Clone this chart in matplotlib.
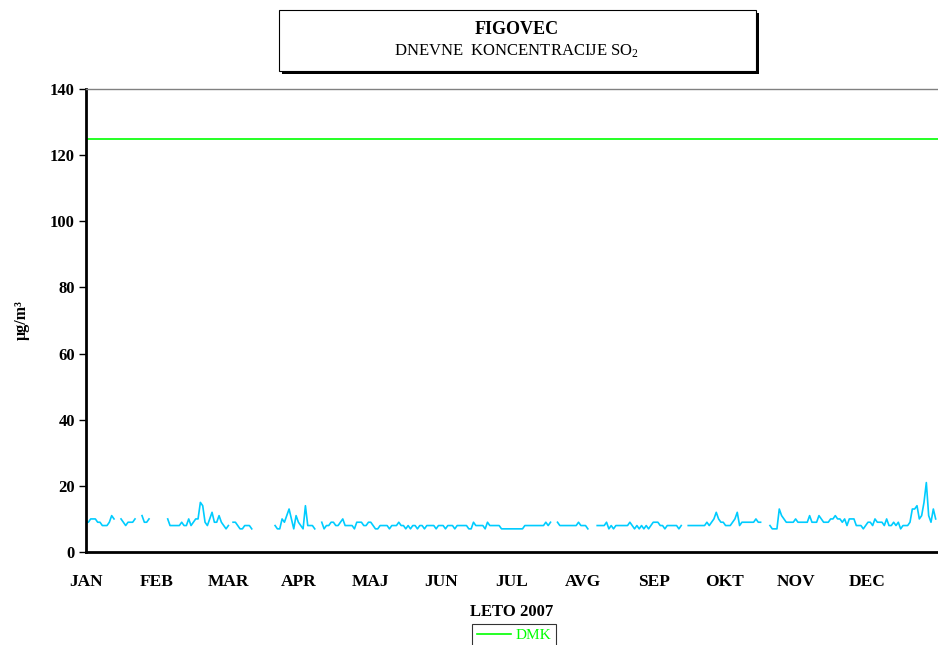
import numpy as np
import matplotlib
matplotlib.use("Agg")
import matplotlib.pyplot as plt
from matplotlib.patches import Rectangle
from matplotlib.lines import Line2D

plt.rcParams['font.family'] = ['Liberation Serif', 'DejaVu Serif']
plt.rcParams['mathtext.fontset'] = 'custom'
plt.rcParams['mathtext.rm'] = 'Liberation Serif'
plt.rcParams['mathtext.it'] = 'Liberation Serif:italic'
plt.rcParams['mathtext.bf'] = 'Liberation Serif:bold'

N = np.nan
# Daily SO2 concentrations 2007 (NaN = missing)
so2 = (
    [9, 9, 10, 10, 10, 9, 9, 8, 8, 8, 9, 11, 10]                     # 0-12
    + [N, N]                                                          # 13-14
    + [10, 9, 8, 9, 9, 9, 10]                                         # 15-21
    + [N, N]                                                          # 22-23
    + [11, 9, 9, 10]                                                  # 24-27
    + [N] * 7                                                         # 28-34
    + [10, 8, 8, 8, 8, 8, 9, 8, 8, 10, 8, 9, 10, 10, 15, 14, 9, 8, 10, 12,
       9, 9, 11, 9, 8, 7, 8]                                          # 35-61
    + [N]                                                             # 62
    + [9, 9, 8, 7, 7, 8, 8, 8, 7]                                     # 63-71
    + [N] * 9                                                         # 72-80
    + [8, 7, 7, 10, 9, 11, 13, 10, 7, 11, 9, 8, 7, 14, 8, 8, 8, 7]    # 81-98
    + [N, N]                                                          # 99-100
    + [9, 7, 8, 8, 9, 9, 8, 8, 9, 10, 8, 8, 8, 8, 7, 9, 9, 9, 8, 8, 9, 9,
       8, 7, 7]                                                       # 101-125
    + [8, 8, 8, 8, 7, 8, 8, 8, 9, 8, 8, 7, 8, 7, 8, 8, 7, 8, 8, 7, 8, 8,
       8, 8, 7, 8, 8, 8, 7, 8, 8, 8, 7, 8, 8, 8, 8, 8, 7, 7, 9, 8, 8, 8,
       8, 7, 9, 8, 8, 8, 8, 8, 7, 7, 7, 7]                            # 126-181
    + [7, 7, 7, 7, 7, 7, 8, 8, 8, 8, 8, 8, 8, 8, 8, 9, 8, 9]          # 182-199
    + [N, N]                                                          # 200-201
    + [9, 8, 8, 8, 8, 8, 8, 8, 8, 9, 8, 8, 8, 7]                      # 202-215
    + [N, N, N]                                                       # 216-218
    + [8, 8, 8, 8, 9, 7, 8, 7, 8, 8, 8, 8, 8, 8, 9, 8, 7, 8, 7, 8, 7, 8,
       7, 8, 9, 9, 9, 8, 8, 7, 8, 8, 8, 8, 8, 7, 8]                   # 219-255
    + [N, N]                                                          # 256-257
    + [8, 8, 8, 8, 8, 8, 8, 8, 9, 8, 9, 10, 12, 10, 9, 9, 8, 8, 8, 9,
       10, 12, 8, 9, 9, 9, 9, 9, 9, 10, 9, 9]                         # 258-289
    + [N, N, N]                                                       # 290-292
    + [8, 7, 7, 7, 13, 11, 10, 9, 9, 9, 9, 10]                        # 293-304
    + [9, 9, 9, 9, 9, 11, 9, 9, 9, 11, 10, 9, 9, 9, 10, 10, 11, 10, 10,
       9, 10, 8, 10, 10, 10, 8, 8, 8, 7, 8, 9, 9, 8, 10, 9, 9, 9, 8, 10,
       8, 8, 9, 8, 9, 7, 8, 8, 8, 9, 13, 13, 14, 10, 11, 15, 21, 11, 9,
       13, 10]                                                        # 305-364
)
so2 = np.array(so2, dtype=float)
days = np.arange(len(so2))

dmk_value = 125
months = ['JAN', 'FEB', 'MAR', 'APR', 'MAJ', 'JUN', 'JUL', 'AVG', 'SEP', 'OKT', 'NOV', 'DEC']
yticks = [0, 20, 40, 60, 80, 100, 120, 140]
n_days = 365

fig = plt.figure(figsize=(9.38, 6.45), dpi=100)
ax = fig.add_axes([86 / 938, (645 - 552) / 645, 852 / 938, 463 / 645])

ax.plot(days, so2, color='#00CCFF', lw=1.2)
ax.axhline(dmk_value, color='#00FF00', lw=1.2)

ax.set_xlim(0, n_days)
ax.set_ylim(0, 140)
ax.set_yticks(yticks)
ax.set_yticklabels([str(v) for v in yticks], fontweight='bold', fontsize=12)
ax.set_xticks([i * n_days / 12 for i in range(12)])
ax.set_xticklabels(months, fontweight='bold', fontsize=12.5)
ax.tick_params(axis='x', length=0, pad=16)
ax.tick_params(axis='y', length=5, width=1, direction='out', pad=3)

ax.spines['left'].set_linewidth(2)
ax.spines['bottom'].set_linewidth(2)
ax.spines['top'].set_color('#808080')
ax.spines['top'].set_linewidth(1)
ax.spines['right'].set_visible(False)

ax.set_xlabel('LETO 2007', fontweight='bold', fontsize=12, labelpad=10)
fig.text(22 / 938, 1 - 320 / 645, 'µg/m³', rotation=90, fontweight='bold',
         fontsize=11.5, ha='center', va='center')

# Title box with shadow
fig.patches.append(Rectangle((282 / 938, 1 - 74 / 645), 477 / 938, 61 / 645,
                             transform=fig.transFigure, facecolor='black',
                             edgecolor='black', lw=0, zorder=1))
fig.patches.append(Rectangle((279 / 938, 1 - 71 / 645), 477 / 938, 61 / 645,
                             transform=fig.transFigure, facecolor='white',
                             edgecolor='black', lw=0.8, zorder=2))
fig.text(517 / 938, 1 - 30 / 645, 'FIGOVEC', fontweight='bold', fontsize=13,
         ha='center', va='center', zorder=3)
fig.text(517 / 938, 1 - 51 / 645, 'DNEVNE  KONCENTRACIJE SO$_2$', fontsize=12,
         ha='center', va='center', zorder=3)

handle = Line2D([], [], color='#00FF00', lw=1.2)
leg = fig.legend([handle], ['DMK'], loc='center', bbox_to_anchor=(514 / 938, 1 - 635 / 645),
                 frameon=True, fancybox=False, edgecolor='black', fontsize=11,
                 handlelength=2.2, handletextpad=0.3, borderpad=0.3, borderaxespad=0)
leg.get_frame().set_linewidth(0.8)
for t in leg.get_texts():
    t.set_color('#00FF00')

fig.savefig('out.png', dpi=100)
